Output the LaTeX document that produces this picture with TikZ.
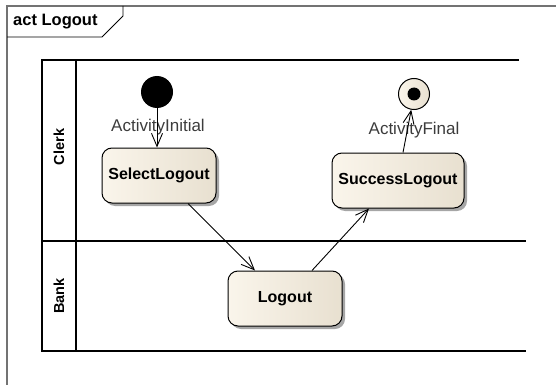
\documentclass[tikz,border=0pt]{standalone}
\usepackage{fontspec}
\setmainfont{Liberation Sans}
\usetikzlibrary{arrows.meta,shadows}
\definecolor{nodeL}{RGB}{250,245,235}
\definecolor{nodeR}{RGB}{232,224,208}
\definecolor{lbl}{RGB}{60,60,60}
\tikzset{
  act/.style={draw=black,line width=1pt,rounded corners=10pt,left color=nodeL,right color=nodeR,
    font=\bfseries\fontsize{16}{18}\selectfont,inner sep=0pt,
    drop shadow={shadow xshift=3pt,shadow yshift=-3pt,fill=black!35,opacity=1}},
  flow/.style={draw=black,line width=0.9pt,-{Straight Barb[length=13pt,width=11pt,line width=0.9pt]}},
  lane/.style={draw=black,line width=1.2pt},
  lanelbl/.style={font=\bfseries\fontsize{14.5}{16}\selectfont,rotate=90},
  statelbl/.style={text=lbl,font=\fontsize{17}{19}\selectfont,inner sep=0pt}
}
\begin{document}
\begin{tikzpicture}[x=1pt,y=-1pt]
\useasboundingbox (0,0) rectangle (556,385);
% frame
\draw[black!55,line width=1.2pt] (556,6) -- (7,6) -- (7,385);
\draw[black,line width=0.8pt] (7,37) -- (102,37) -- (123,16) -- (123,6);
\node[anchor=west,font=\bfseries\fontsize{16.5}{18}\selectfont,inner sep=0pt] (title) at (13,22) {act Logout};
% lanes
\draw[lane] (519,60) -- (42,60) -- (42,351) -- (526,351);
\draw[lane] (42,241) -- (526,241);
\draw[lane] (76,60) -- (76,351);
\node[lanelbl] (clerk) at (59,147) {Clerk};
\node[lanelbl] (bank) at (59,296) {Bank};
% nodes
\node[circle,fill=black,minimum size=32pt,inner sep=0pt] (init) at (157,92) {};
\node[circle,draw=black,line width=1pt,left color=nodeL,right color=nodeR,minimum size=31pt,inner sep=0pt] (final) at (414,94) {};
\node[circle,fill=black,minimum size=13pt,inner sep=0pt] (finaldot) at (414,94) {};
\node[act,minimum width=114pt,minimum height=55pt] (sel) at (159,175.5) {SelectLogout};
\node[act,minimum width=132pt,minimum height=55pt] (succ) at (398,180.5) {SuccessLogout};
\node[act,minimum width=114pt,minimum height=55pt] (logout) at (285,298.5) {Logout};
% labels
\node[statelbl] (initlbl) at (158,127) {ActivityInitial};
\node[statelbl] (finallbl) at (414,130) {ActivityFinal};
% flows
\draw[flow] (init.south) -- (sel.north -| init.south);
\draw[flow] ([xshift=29pt]sel.south) -- ([xshift=-30pt]logout.north);
\draw[flow] ([xshift=27pt]logout.north) -- ([xshift=-29pt]succ.south);
\draw[flow] ([xshift=5pt]succ.north) -- (final.-100);
\end{tikzpicture}
\end{document}
